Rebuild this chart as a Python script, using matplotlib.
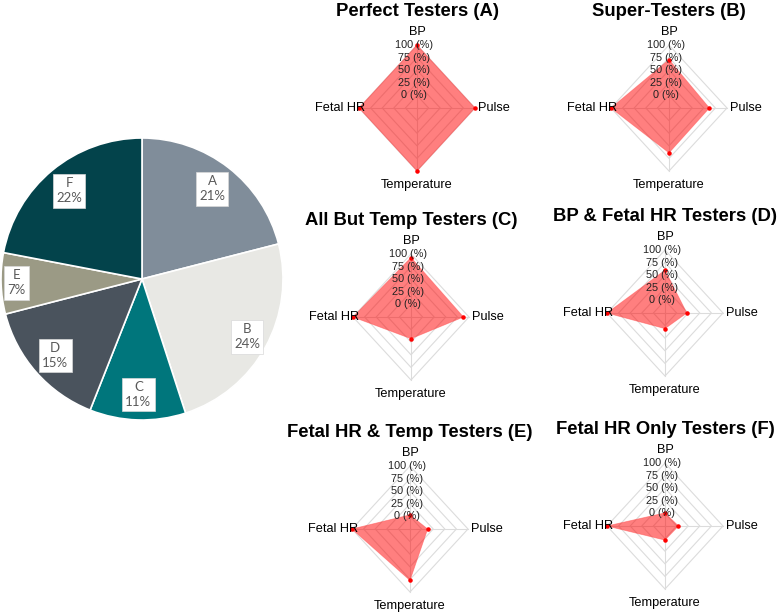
import numpy as np
import matplotlib
matplotlib.use("Agg")
import matplotlib.pyplot as plt

# pie data
groups = ["A", "B", "C", "D", "E", "F"]
shares = [21, 24, 11, 15, 7, 22]
pie_colors = ["#808d9a", "#e8e8e4", "#00767c", "#4a535d", "#9b9a85", "#03434b"]

# radar data (percent of testers), order: BP, Fetal HR, Temperature, Pulse
axes_names = ["BP", "Fetal HR", "Temperature", "Pulse"]
titles = ["Perfect Testers (A)", "Super-Testers (B)", "All But Temp Testers (C)",
          "BP & Fetal HR Testers (D)", "Fetal HR & Temp Testers (E)", "Fetal HR Only Testers (F)"]
bp = [100, 71, 93, 60, 3, 1]
fetal_hr = [100, 100, 100, 100, 100, 100]
temperature = [100, 64, 18, 6, 77, 3]
pulse = [100, 62, 88, 22, 13, 4]
tick_labels = ["0 (%)", "25 (%)", "50 (%)", "75 (%)", "100 (%)"]

W, H = 777, 615
fig = plt.figure(figsize=(W / 100, H / 100), dpi=100)
plt.rcParams["font.family"] = ["Liberation Sans", "DejaVu Sans"]


def px_axes(cx, cy, rx, ry, xr, yr):
    # axes whose data unit is rx / ry pixels, centred on pixel (cx, cy)
    w, h = 2 * xr * rx, 2 * yr * ry
    return fig.add_axes([(cx - w / 2) / W, (H - cy - h / 2) / H, w / W, h / H])


# ---- pie ----
ax = px_axes(142, 279, 141, 141, 1.0, 1.0)
wedges, texts = ax.pie(shares, colors=pie_colors, startangle=90, counterclock=False,
                       wedgeprops=dict(edgecolor="white", linewidth=1.2))
ax.set_xlim(-1.0, 1.0)
ax.set_ylim(-1.0, 1.0)
ax.set_aspect("auto")
label_r = [0.81, 0.85, 0.82, 0.82, 0.89, 0.81]
for w, g, s, r in zip(wedges, groups, shares, label_r):
    ang = np.deg2rad((w.theta1 + w.theta2) / 2)
    ax.text(r * np.cos(ang), r * np.sin(ang), f"{g}\n{s}%", ha="center", va="center",
            fontsize=9.5, color="#595959", family=["Lato", "DejaVu Sans"], linespacing=1.3,
            bbox=dict(boxstyle="square,pad=0.25", facecolor="white", edgecolor="#d9d9d9", linewidth=0.5))

# ---- radars ----
centers = [(417, 108), (669, 108), (411, 317), (665, 313), (410, 529), (665, 526)]
angles = np.deg2rad([90, 180, 270, 0])
levels = [0, 25, 50, 75, 100]


def scale(v):
    # fmsb style: 0 sits on the first inner ring
    return (np.asarray(v) / 100 * 4 + 1) / 5


for i, (cx, cy) in enumerate(centers):
    ax = px_axes(cx, cy, 58, 63, 1.6, 1.6)
    ax.set_xlim(-1.6, 1.6)
    ax.set_ylim(-1.6, 1.6)
    ax.axis("off")
    for lv in levels:
        r = scale(lv)
        xs = np.append(r * np.cos(angles), r * np.cos(angles[0]))
        ys = np.append(r * np.sin(angles), r * np.sin(angles[0]))
        ax.plot(xs, ys, color="#dcdcdc", linewidth=0.8, zorder=1)
    for a in angles:
        ax.plot([0, np.cos(a)], [0, np.sin(a)], color="#dcdcdc", linewidth=0.8, zorder=1)

    vals = scale([bp[i], fetal_hr[i], temperature[i], pulse[i]])
    px = vals * np.cos(angles)
    py = vals * np.sin(angles)
    ax.fill(px, py, facecolor=(1, 0, 0, 0.5), edgecolor=(1, 0.3, 0.3, 0.5), linewidth=0.6, zorder=2)
    ax.scatter(px, py, s=5, color="red", zorder=3)

    for lv, tl in zip(levels, tick_labels):
        ax.text(-0.05, scale(lv), tl, ha="center", va="center", fontsize=7.8, color="#222222", zorder=4)

    ax.text(0, 1.21, axes_names[0], ha="center", va="center", fontsize=9.2)
    ax.text(-1.33, 0, axes_names[1], ha="center", va="center", fontsize=9.2)
    ax.text(0, -1.22, axes_names[2], ha="center", va="center", fontsize=9.2)
    ax.text(1.33, 0, axes_names[3], ha="center", va="center", fontsize=9.2)
    ax.text(0, 1.53, titles[i], ha="center", va="center", fontsize=13.3, fontweight="bold", clip_on=False)

fig.savefig("out.png", dpi=100)
